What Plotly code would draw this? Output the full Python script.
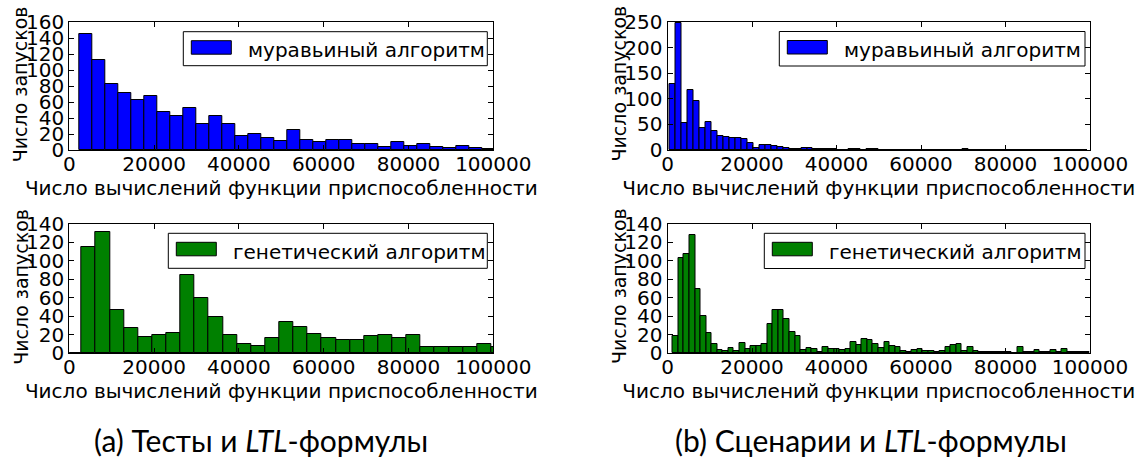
import numpy as np
import plotly.graph_objects as go

W, H = 1139, 465

# ---------------- data ----------------
x_tick_vals = [0, 20000, 40000, 60000, 80000, 100000]
x_tick_text = ["0", "20000", "40000", "60000", "80000", "100000"]

y_ticks_a_ant = [0, 20, 40, 60, 80, 100, 120, 140, 160]
y_ticks_a_gen = [0, 20, 40, 60, 80, 100, 120, 140]
y_ticks_b_ant = [0, 50, 100, 150, 200, 250]
y_ticks_b_gen = [0, 20, 40, 60, 80, 100, 120, 140]

# (a) tests and LTL formulas
a_ant_counts = [145, 112, 83, 71, 63, 68, 48, 43, 53, 33, 42, 32, 18, 20, 15, 11,
                25, 13, 10, 12, 13, 7, 7, 4, 10, 5, 7, 4, 3, 5, 3, 1]
a_ant_bins = (2288, 3071)          # first bin edge, bin width

a_gen_counts = [0, 115, 131, 47, 27, 17, 19, 22, 85, 60, 39, 20, 10, 8, 16, 34,
                28, 21, 16, 14, 14, 18, 20, 16, 20, 6, 7, 7, 6, 10, 7]
a_gen_bins = (-434, 3332)

# (b) scenarios and LTL formulas
b_ant_counts = [128, 249, 52, 118, 96, 43, 54, 37, 28, 26,
                24, 23, 22, 13, 4, 10, 9, 7, 6, 3,
                1, 1, 3, 3, 2, 2, 1, 1, 0, 0,
                1, 1, 0, 1, 1, 0, 0, 0, 0, 0,
                0, 0, 0, 0, 0, 0, 0, 0, 0, 1,
                0, 0, 0, 0, 0, 0, 0, 0, 0, 0,
                0, 0, 0, 0, 0, 0, 0, 0, 0, 0]
b_ant_bins = (472, 1415)

b_gen_counts = [18, 103, 107, 128, 70, 40, 22, 10, 3, 2,
                5, 2, 11, 4, 8, 8, 10, 31, 47, 47,
                37, 23, 18, 3, 5, 4, 1, 6, 4, 4,
                3, 4, 12, 9, 15, 14, 10, 5, 12, 8,
                6, 2, 1, 3, 4, 2, 2, 1, 2, 6,
                9, 10, 2, 6, 2, 1, 1, 1, 1, 1,
                1, 0, 7, 1, 1, 3, 1, 1, 3, 1,
                4, 1, 1, 1, 1]
b_gen_bins = (1250, 1316)

ant_name = "муравьиный алгоритм"
gen_name = "генетический алгоритм"
x_title = "Число вычислений функции приспособленности"
y_title = "Число запусков"
caption_a = "(a) Тесты и <i>LTL</i>-формулы"
caption_b = "(b) Сценарии и <i>LTL</i>-формулы"

BLUE = "#0000ff"
GREEN = "#008000"
FONT = "DejaVu Sans"
FS = 20

# ---------------- layout geometry (pixels) ----------------
panels = [
    # key, counts, bins, color, name, yticks, ymax, x0, x1, ytop, ybot, legend box
    ("a_ant", a_ant_counts, a_ant_bins, BLUE, ant_name, y_ticks_a_ant, 160,
     69.3, 493.3, 22, 150, (183.3, 487.3, 31.7, 65.7)),
    ("a_gen", a_gen_counts, a_gen_bins, GREEN, gen_name, y_ticks_a_gen, 140,
     69.3, 493.3, 224, 353, (168.3, 487.3, 233.3, 268.3)),
    ("b_ant", b_ant_counts, b_ant_bins, BLUE, ant_name, y_ticks_b_ant, 250,
     667.5, 1090, 22, 150, (779.3, 1085, 31.5, 66)),
    ("b_gen", b_gen_counts, b_gen_bins, GREEN, gen_name, y_ticks_b_gen, 140,
     667.5, 1090, 224, 353, (764.3, 1085, 233.3, 268.5)),
]


def px(x):
    return x / W


def py(y):
    return 1 - y / H


fig = go.Figure()
shapes = []
annotations = []

for i, (key, counts, (b0, bw), color, name, yt, ymax, x0, x1, yt_px, yb_px, lb) in enumerate(panels):
    n = i + 1
    xa = "x" if n == 1 else f"x{n}"
    ya = "y" if n == 1 else f"y{n}"
    centers = b0 + bw * (np.arange(len(counts)) + 0.5)
    fig.add_trace(go.Bar(
        x=centers, y=counts, width=bw, name=name, xaxis=xa, yaxis=ya,
        marker=dict(color=color, line=dict(color="black", width=1)),
        showlegend=False,
    ))
    axis_common = dict(
        showline=True, linecolor="black", linewidth=1, mirror="ticks",
        ticks="inside", ticklen=5, tickcolor="black", showgrid=False,
        zeroline=False, automargin=False,
        tickfont=dict(family=FONT, size=FS, color="black"),
    )
    fig.layout[f"xaxis{'' if n == 1 else n}"] = dict(
        domain=[px(x0), px(x1)], anchor=ya, range=[0, 100000],
        tickvals=x_tick_vals, ticktext=x_tick_text, ticklabelstandoff=-4,
        title=dict(text=x_title, font=dict(family=FONT, size=FS, color="black"), standoff=3),
        **axis_common,
    )
    fig.layout[f"yaxis{'' if n == 1 else n}"] = dict(
        domain=[py(yb_px), py(yt_px)], anchor=xa, range=[0, ymax],
        tickvals=yt, ticktext=[str(v) for v in yt],
        **axis_common,
    )
    # y-axis title
    annotations.append(dict(text=y_title, xref="paper", yref="paper",
                            x=px(x0 - 49), y=py((yt_px + yb_px) / 2 - 2),
                            xanchor="center", yanchor="middle", textangle=-90,
                            showarrow=False,
                            font=dict(family=FONT, size=19, color="black")))
    # legend box (matplotlib-style wide patch)
    bx0, bx1, by0, by1 = lb
    shapes.append(dict(type="rect", xref="paper", yref="paper",
                       x0=px(bx0), x1=px(bx1), y0=py(by1), y1=py(by0),
                       line=dict(color="black", width=1), fillcolor="white", layer="above"))
    shapes.append(dict(type="rect", xref="paper", yref="paper",
                       x0=px(bx0 + 8), x1=px(bx0 + 48), y0=py(by0 + 22.5), y1=py(by0 + 9),
                       line=dict(color="black", width=1), fillcolor=color, layer="above"))
    annotations.append(dict(text=name, xref="paper", yref="paper",
                            x=px(bx0 + 63), y=py((by0 + by1) / 2 + 1),
                            xanchor="left", yanchor="middle", showarrow=False,
                            font=dict(family=FONT, size=FS, color="black")))

annotations.append(dict(text=caption_a, xref="paper", yref="paper", x=px(261), y=py(440),
                        xanchor="center", yanchor="middle", showarrow=False,
                        font=dict(family="Lato", size=30, color="black")))
annotations.append(dict(text=caption_b, xref="paper", yref="paper", x=px(871), y=py(440),
                        xanchor="center", yanchor="middle", showarrow=False,
                        font=dict(family="Lato", size=30, color="black")))

fig.update_layout(
    template="none",
    width=W, height=H, margin=dict(l=0, r=0, t=0, b=0, autoexpand=False),
    paper_bgcolor="white", plot_bgcolor="white",
    bargap=0, barmode="overlay",
    shapes=shapes, annotations=annotations,
    font=dict(family=FONT, size=FS, color="black"),
)

# remove the browser's default 8px body margin so the figure fills the window
fig.write_html("out.html",
               config={"displayModeBar": False},
               post_script="document.body.style.margin='0px';"
                           "document.body.style.overflow='hidden';")
